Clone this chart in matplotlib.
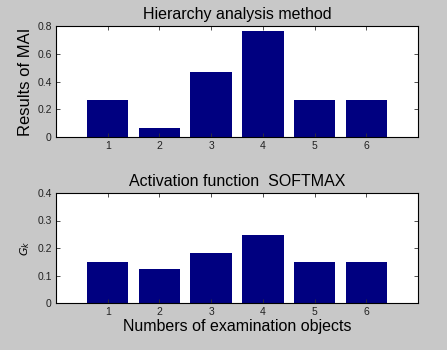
import numpy as np
import matplotlib
matplotlib.use("Agg")
import matplotlib.pyplot as plt

plt.rcParams["font.family"] = ["Liberation Sans", "DejaVu Sans"]

objects = [1, 2, 3, 4, 5, 6]
mai = [0.267, 0.065, 0.468, 0.764, 0.267, 0.267]
softmax_g = [0.150, 0.122, 0.183, 0.246, 0.150, 0.150]

BG = "#c8c8c8"
BAR = "#000080"

fig = plt.figure(figsize=(4.47, 3.5), dpi=100, facecolor=BG)
ax1 = fig.add_axes([56/447, 1 - 137/350, 362/447, 111/350])
ax2 = fig.add_axes([56/447, 1 - 303/350, 362/447, 110/350])

def style(ax, ymax, step):
    ax.set_xlim(0, 7)
    ax.set_ylim(0, ymax)
    ax.set_xticks(objects)
    ax.set_yticks(np.arange(0, ymax + step / 2, step))
    ax.set_yticklabels([f"{v:g}" for v in np.arange(0, ymax + step / 2, step)])
    ax.tick_params(direction="in", top=True, right=True, length=3, width=0.6,
                   labelsize=7.5, colors="#333333", labelcolor="#222222", pad=3)
    for s in ax.spines.values():
        s.set_linewidth(0.8)

ax1.bar(objects, mai, width=0.8, color=BAR)
style(ax1, 0.8, 0.2)
ax1.set_title("Hierarchy analysis method", fontsize=11.5, pad=5)
ax1.set_ylabel("Results of MAI", fontsize=12, labelpad=3)

ax2.bar(objects, softmax_g, width=0.8, color=BAR)
style(ax2, 0.4, 0.1)
ax2.set_title("Activation function  SOFTMAX", fontsize=11.5, pad=5)
ax2.set_ylabel("$G_k$", fontsize=8, labelpad=4)
ax2.set_xlabel("Numbers of examination objects", fontsize=11.5, labelpad=1)

fig.savefig("out.png", dpi=100, facecolor=BG)
